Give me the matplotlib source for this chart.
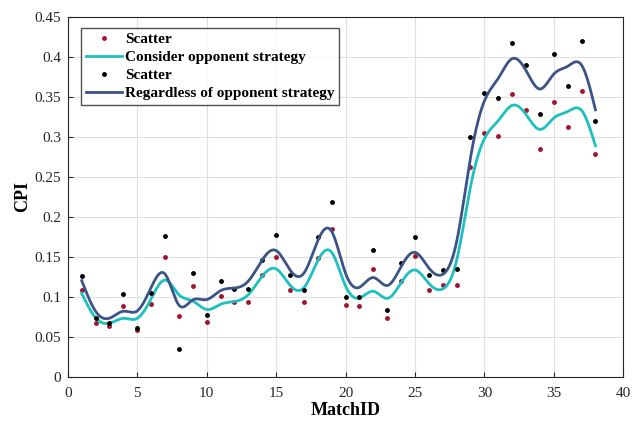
import numpy as np
import matplotlib.pyplot as plt

match_id = np.arange(1, 39)
# CPI, consider opponent strategy (red dots)
cpi_consider = [0.109, 0.067, 0.063, 0.089, 0.058, 0.091, 0.150, 0.076, 0.113, 0.068,
                0.101, 0.094, 0.094, 0.127, 0.150, 0.109, 0.094, 0.149, 0.185, 0.090,
                0.089, 0.135, 0.073, 0.120, 0.151, 0.109, 0.115, 0.115, 0.262, 0.305,
                0.301, 0.354, 0.334, 0.285, 0.343, 0.312, 0.357, 0.278]
# CPI, regardless of opponent strategy (black dots)
cpi_regardless = [0.126, 0.074, 0.067, 0.103, 0.061, 0.105, 0.176, 0.035, 0.130, 0.077,
                  0.120, 0.110, 0.110, 0.146, 0.177, 0.127, 0.108, 0.175, 0.218, 0.100,
                  0.100, 0.159, 0.083, 0.142, 0.175, 0.127, 0.134, 0.135, 0.300, 0.355,
                  0.349, 0.417, 0.390, 0.329, 0.404, 0.363, 0.420, 0.320]


def smooth_spline(x, y, lam, n_out=800):
    # cubic smoothing spline (Reinsch form)
    x = np.asarray(x, float)
    y = np.asarray(y, float)
    n = len(x)
    h = np.diff(x)
    Q = np.zeros((n, n - 2))
    R = np.zeros((n - 2, n - 2))
    for j in range(1, n - 1):
        Q[j - 1, j - 1] = 1 / h[j - 1]
        Q[j, j - 1] = -1 / h[j - 1] - 1 / h[j]
        Q[j + 1, j - 1] = 1 / h[j]
        R[j - 1, j - 1] = (h[j - 1] + h[j]) / 3
        if j < n - 2:
            R[j - 1, j] = h[j] / 6
            R[j, j - 1] = h[j] / 6
    K = Q @ np.linalg.solve(R, Q.T)
    g = np.linalg.solve(np.eye(n) + lam * K, y)
    gam = np.zeros(n)
    gam[1:-1] = np.linalg.solve(R, Q.T @ g)
    t = np.linspace(x[0], x[-1], n_out)
    i = np.clip(np.searchsorted(x, t) - 1, 0, n - 2)
    hi = h[i]
    a = t - x[i]
    b = x[i + 1] - t
    f = (a * g[i + 1] + b * g[i]) / hi - a * b / 6 * ((1 + a / hi) * gam[i + 1] + (1 + b / hi) * gam[i])
    return t, f


red = '#A2142F'
cyan = '#1DBFC0'
navy = '#3B5488'

plt.rcParams['font.family'] = 'Liberation Serif'
fig = plt.figure(figsize=(6.34, 4.21), dpi=100)
ax = fig.add_axes([0.107, 0.105, 0.876, 0.855])

t1, f1 = smooth_spline(match_id, cpi_consider, 0.15)
t2, f2 = smooth_spline(match_id, cpi_regardless, 0.15)

ax.plot(match_id, cpi_consider, '.', color=red, markersize=5, label='Scatter')
ax.plot(t1, f1, color=cyan, linewidth=2, label='Consider opponent strategy')
ax.plot(match_id, cpi_regardless, '.', color='black', markersize=5, label='Scatter')
ax.plot(t2, f2, color=navy, linewidth=2, label='Regardless of opponent strategy')

ax.set_xlim(0, 40)
ax.set_ylim(0, 0.45)
ax.set_xticks(np.arange(0, 41, 5))
ax.set_yticks(np.arange(0, 0.46, 0.05))
ax.set_yticklabels(['0', '0.05', '0.1', '0.15', '0.2', '0.25', '0.3', '0.35', '0.4', '0.45'])
ax.grid(True, color='#e0e0e0', linewidth=0.8)
ax.set_axisbelow(True)
ax.tick_params(direction='in', labelsize=11, colors='#262626', top=False, right=False)
ax.tick_params(axis='x', pad=7)
ax.tick_params(axis='y', pad=5)
for s in ax.spines.values():
    s.set_color('#262626')
ax.set_xlabel('MatchID', fontsize=13, fontweight='bold', labelpad=2)
ax.set_ylabel('CPI', fontsize=13, fontweight='bold', labelpad=2)

leg = ax.legend(loc='upper left', prop={'weight': 'bold', 'size': 11}, fancybox=False,
                edgecolor='#262626', handlelength=2.4, borderpad=0.3, labelspacing=0.28,
                handletextpad=0.2, bbox_to_anchor=(0.01, 0.99))

fig.savefig('out.png', dpi=100)
